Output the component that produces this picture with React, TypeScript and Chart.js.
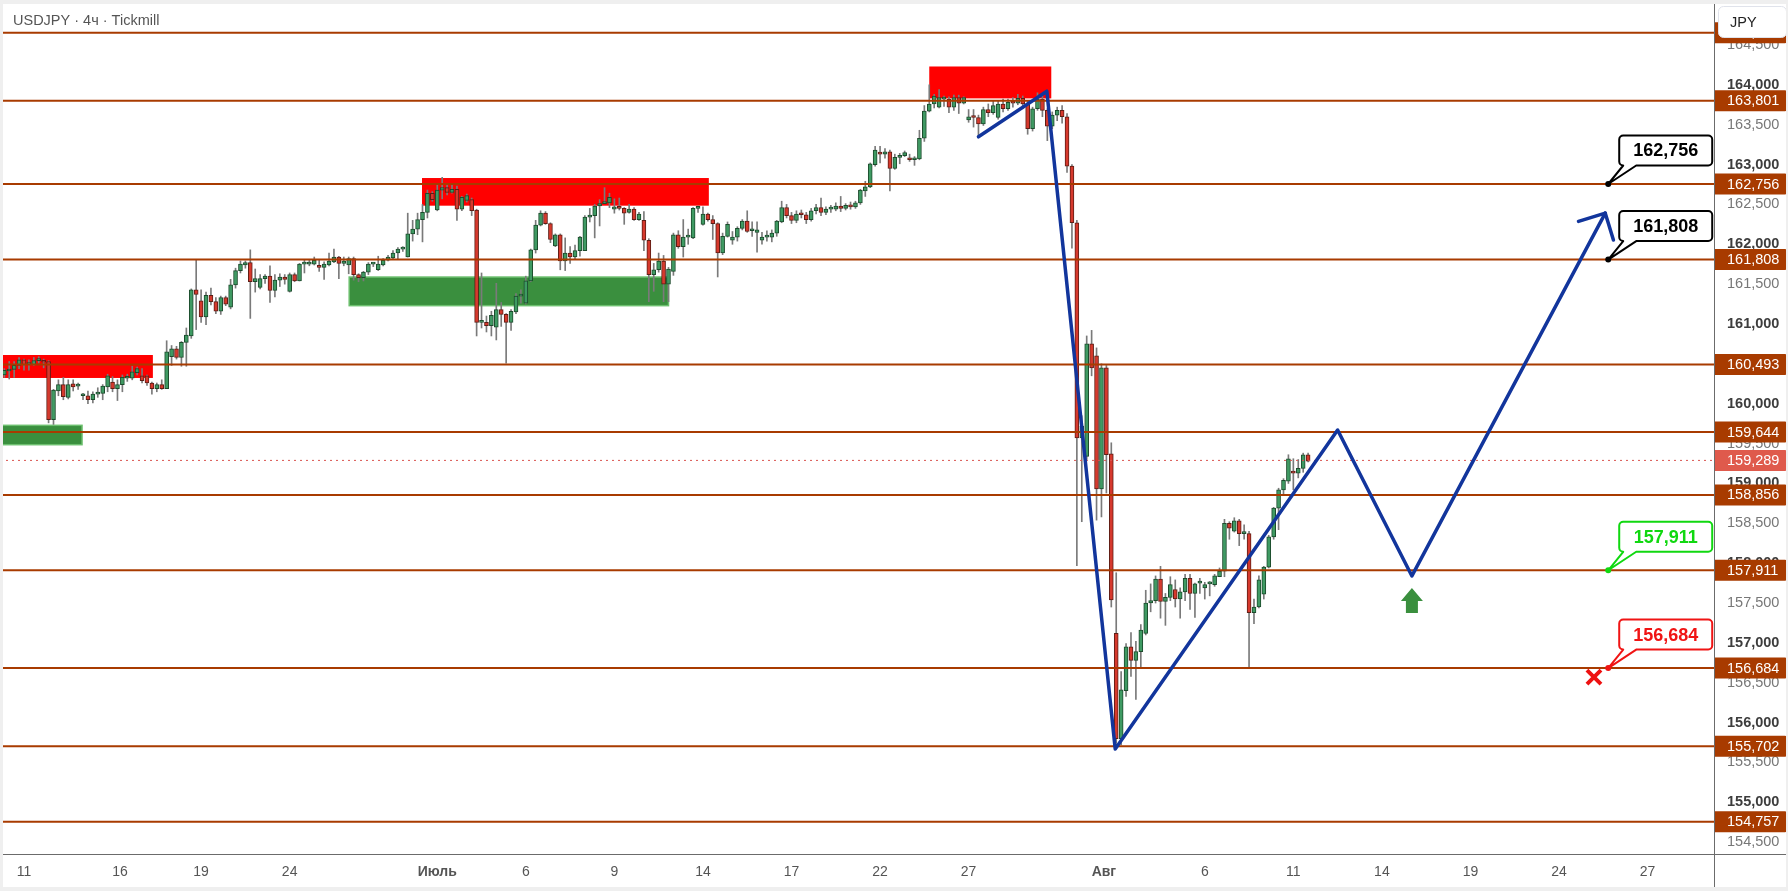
import React, { useEffect, useRef } from 'react';
import { Chart, registerables } from 'chart.js';

Chart.register(...registerables);

// ---------- 4h candles (bar index 0..265) ----------
const OPEN = [
  160.36, 160.41, 160.43, 160.48, 160.55, 160.49, 160.49, 160.54, 160.53, 160.53,
  159.80, 160.16, 160.24, 160.08, 160.25, 160.22, 160.10, 160.10, 160.05, 160.12,
  160.13, 160.21, 160.27, 160.19, 160.24, 160.32, 160.32, 160.39, 160.35, 160.35,
  160.26, 160.19, 160.24, 160.19, 160.59, 160.69, 160.58, 160.77, 160.85, 161.43,
  161.29, 161.09, 161.36, 161.28, 161.16, 161.33, 161.21, 161.49, 161.67, 161.74,
  161.77, 161.53, 161.46, 161.57, 161.60, 161.42, 161.55, 161.59, 161.41, 161.62,
  161.54, 161.75, 161.75, 161.75, 161.73, 161.71, 161.74, 161.78, 161.84, 161.76,
  161.74, 161.82, 161.62, 161.58, 161.65, 161.75, 161.68, 161.74, 161.80, 161.83,
  161.89, 161.94, 161.84, 162.13, 162.19, 162.31, 162.40, 162.64, 162.43, 162.68,
  162.71, 162.65, 162.69, 162.44, 162.55, 162.56, 162.43, 161.02, 161.02, 160.98,
  160.96, 161.18, 161.12, 161.02, 161.15, 161.35, 161.26, 161.54, 161.93, 162.24,
  162.39, 162.26, 161.98, 162.12, 161.79, 161.89, 161.84, 161.92, 161.92, 162.34,
  162.36, 162.48, 162.51, 162.52, 162.44, 162.47, 162.45, 162.40, 162.44, 162.31,
  162.30, 162.05, 161.62, 161.68, 161.79, 161.50, 161.66, 162.12, 161.97, 162.09,
  162.08, 162.45, 162.25, 162.38, 162.31, 162.26, 161.89, 162.10, 162.05, 162.09,
  162.20, 162.29, 162.17, 162.15, 162.05, 162.09, 162.09, 162.14, 162.28, 162.46,
  162.36, 162.30, 162.38, 162.37, 162.31, 162.42, 162.46, 162.40, 162.44, 162.44,
  162.48, 162.45, 162.49, 162.47, 162.52, 162.67, 162.72, 163.00, 163.14, 163.13,
  163.16, 162.95, 163.09, 163.11, 163.07, 163.06, 163.07, 163.33, 163.67, 163.76,
  163.72, 163.82, 163.82, 163.72, 163.84, 163.77, 163.56, 163.61, 163.59, 163.51,
  163.69, 163.65, 163.59, 163.76, 163.70, 163.78, 163.77, 163.83, 163.76, 163.45,
  163.70, 163.82, 163.68, 163.48, 163.62, 163.68, 163.60, 162.98, 162.27, 159.57,
  159.34, 160.75, 160.60, 158.93, 160.45, 159.37, 157.12, 155.80, 156.40, 156.95,
  156.78, 156.89, 157.12, 157.50, 157.53, 157.80, 157.52, 157.57, 157.67, 157.55,
  157.64, 157.81, 157.62, 157.75, 157.69, 157.74, 157.73, 157.83, 157.90, 158.50,
  158.40, 158.53, 158.37, 158.37, 157.38, 157.45, 157.61, 157.95, 158.33, 158.69,
  158.92, 159.03, 159.14, 159.13, 159.19, 159.36,
];
const HIGH = [
  160.44, 160.53, 160.53, 160.58, 160.56, 160.55, 160.58, 160.59, 160.56, 160.54,
  160.18, 160.30, 160.33, 160.30, 160.30, 160.26, 160.13, 160.16, 160.15, 160.20,
  160.24, 160.37, 160.34, 160.30, 160.36, 160.37, 160.47, 160.46, 160.44, 160.36,
  160.27, 160.26, 160.30, 160.79, 160.73, 160.72, 160.78, 160.95, 161.44, 161.80,
  161.43, 161.40, 161.45, 161.33, 161.35, 161.35, 161.56, 161.70, 161.79, 161.79,
  161.93, 161.69, 161.62, 161.62, 161.73, 161.62, 161.63, 161.62, 161.64, 161.64,
  161.76, 161.80, 161.81, 161.84, 161.80, 161.78, 161.89, 161.94, 161.85, 161.84,
  161.84, 161.84, 161.63, 161.66, 161.77, 161.77, 161.85, 161.82, 161.86, 161.92,
  161.96, 161.97, 162.39, 162.30, 162.39, 162.50, 162.68, 162.66, 162.76, 162.84,
  162.76, 162.76, 162.73, 162.60, 162.63, 162.58, 162.44, 161.64, 161.10, 161.16,
  161.51, 161.27, 161.13, 161.18, 161.38, 161.43, 161.60, 161.94, 162.30, 162.42,
  162.41, 162.27, 162.13, 162.13, 162.08, 161.97, 161.99, 162.10, 162.36, 162.45,
  162.50, 162.56, 162.71, 162.64, 162.57, 162.58, 162.46, 162.50, 162.46, 162.40,
  162.41, 162.07, 161.76, 161.89, 161.86, 161.71, 162.14, 162.17, 162.31, 162.19,
  162.46, 162.48, 162.47, 162.39, 162.36, 162.27, 162.14, 162.28, 162.16, 162.22,
  162.31, 162.42, 162.28, 162.28, 162.15, 162.17, 162.18, 162.30, 162.54, 162.50,
  162.40, 162.42, 162.43, 162.40, 162.45, 162.50, 162.58, 162.47, 162.49, 162.52,
  162.60, 162.51, 162.53, 162.54, 162.69, 162.79, 163.02, 163.23, 163.23, 163.20,
  163.18, 163.13, 163.14, 163.17, 163.13, 163.10, 163.43, 163.74, 164.00, 163.88,
  163.94, 163.86, 163.85, 163.87, 163.87, 163.85, 163.69, 163.69, 163.62, 163.72,
  163.76, 163.80, 163.80, 163.82, 163.82, 163.84, 163.88, 163.86, 163.80, 163.72,
  163.90, 163.86, 163.70, 163.66, 163.72, 163.74, 163.64, 163.00, 162.30, 159.85,
  160.85, 160.92, 160.70, 160.50, 160.48, 159.51, 157.88, 156.64, 156.99, 157.13,
  157.02, 157.23, 157.66, 157.74, 157.84, 157.96, 157.62, 157.83, 157.79, 157.69,
  157.86, 157.86, 157.75, 157.81, 157.76, 157.77, 157.86, 157.94, 158.55, 158.52,
  158.57, 158.55, 158.48, 158.40, 157.55, 157.84, 157.96, 158.35, 158.70, 158.94,
  159.06, 159.36, 159.31, 159.30, 159.38, 159.38,
];
const LOW = [
  160.33, 160.31, 160.33, 160.44, 160.42, 160.42, 160.48, 160.51, 160.45, 159.76,
  159.74, 160.10, 160.05, 160.06, 160.16, 160.18, 160.05, 160.00, 160.01, 160.08,
  160.05, 160.15, 160.15, 160.04, 160.15, 160.28, 160.30, 160.36, 160.26, 160.23,
  160.12, 160.15, 160.18, 160.19, 160.48, 160.56, 160.47, 160.47, 160.82, 160.93,
  161.02, 160.99, 161.24, 161.13, 161.12, 161.23, 161.19, 161.45, 161.64, 161.70,
  161.07, 161.40, 161.44, 161.51, 161.27, 161.34, 161.47, 161.50, 161.40, 161.53,
  161.54, 161.64, 161.73, 161.74, 161.66, 161.56, 161.73, 161.77, 161.57, 161.73,
  161.63, 161.55, 161.53, 161.54, 161.62, 161.72, 161.67, 161.73, 161.79, 161.82,
  161.81, 161.91, 161.84, 162.04, 162.12, 162.03, 162.33, 162.54, 162.42, 162.57,
  162.62, 162.64, 162.30, 162.42, 162.53, 162.36, 160.85, 160.95, 160.90, 160.85,
  160.80, 160.97, 160.51, 160.92, 161.13, 161.26, 161.25, 161.53, 161.89, 162.23,
  162.25, 162.02, 161.97, 161.68, 161.67, 161.76, 161.82, 161.85, 161.92, 162.28,
  162.08, 162.23, 162.51, 162.46, 162.39, 162.43, 162.25, 162.39, 162.30, 162.30,
  161.92, 161.28, 161.41, 161.65, 161.28, 161.28, 161.61, 161.95, 161.84, 162.00,
  162.07, 162.40, 162.24, 162.29, 162.06, 161.59, 161.87, 162.09, 162.00, 162.04,
  162.18, 162.15, 162.10, 161.90, 162.00, 162.04, 162.03, 162.10, 162.27, 162.33,
  162.26, 162.27, 162.33, 162.26, 162.29, 162.38, 162.36, 162.37, 162.40, 162.42,
  162.41, 162.43, 162.44, 162.45, 162.50, 162.60, 162.71, 162.98, 163.02, 163.08,
  162.67, 162.94, 163.01, 163.10, 163.04, 162.99, 163.06, 163.29, 163.66, 163.71,
  163.71, 163.73, 163.65, 163.68, 163.64, 163.76, 163.53, 163.47, 163.35, 163.49,
  163.60, 163.63, 163.57, 163.66, 163.68, 163.72, 163.75, 163.70, 163.38, 163.42,
  163.68, 163.60, 163.30, 163.45, 163.55, 163.52, 162.90, 161.95, 157.97, 158.52,
  159.30, 160.35, 158.54, 158.58, 158.88, 157.45, 155.74, 155.72, 156.33, 156.58,
  156.29, 156.70, 157.10, 157.39, 157.50, 157.31, 157.22, 157.53, 157.45, 157.31,
  157.53, 157.42, 157.32, 157.62, 157.55, 157.59, 157.71, 157.83, 157.83, 158.30,
  158.39, 158.22, 158.30, 156.69, 157.24, 157.44, 157.55, 157.94, 158.30, 158.42,
  158.86, 159.00, 158.92, 159.07, 159.14, 159.27,
];
const CLOSE = [
  160.42, 160.43, 160.48, 160.55, 160.49, 160.50, 160.54, 160.54, 160.52, 159.80,
  160.17, 160.24, 160.09, 160.24, 160.21, 160.22, 160.11, 160.05, 160.12, 160.14,
  160.22, 160.35, 160.19, 160.24, 160.33, 160.32, 160.40, 160.44, 160.29, 160.26,
  160.19, 160.24, 160.19, 160.65, 160.69, 160.58, 160.77, 160.86, 161.43, 161.37,
  161.09, 161.36, 161.28, 161.16, 161.33, 161.25, 161.49, 161.67, 161.75, 161.77,
  161.53, 161.57, 161.57, 161.60, 161.42, 161.55, 161.59, 161.56, 161.62, 161.54,
  161.75, 161.75, 161.75, 161.80, 161.71, 161.75, 161.79, 161.84, 161.76, 161.79,
  161.82, 161.62, 161.58, 161.65, 161.75, 161.75, 161.75, 161.80, 161.84, 161.89,
  161.94, 161.94, 162.13, 162.19, 162.31, 162.40, 162.64, 162.56, 162.68, 162.71,
  162.65, 162.69, 162.44, 162.59, 162.61, 162.42, 161.02, 161.02, 160.98, 161.11,
  161.18, 161.12, 161.02, 161.16, 161.35, 161.36, 161.54, 161.93, 162.24, 162.39,
  162.26, 162.06, 162.12, 161.79, 161.89, 161.84, 161.92, 162.09, 162.34, 162.36,
  162.48, 162.51, 162.53, 162.59, 162.47, 162.45, 162.39, 162.44, 162.31, 162.38,
  162.05, 161.62, 161.68, 161.79, 161.50, 161.69, 162.12, 161.97, 162.09, 162.09,
  162.45, 162.45, 162.38, 162.31, 162.26, 161.89, 162.10, 162.25, 162.09, 162.20,
  162.29, 162.16, 162.17, 162.18, 162.09, 162.09, 162.14, 162.29, 162.46, 162.36,
  162.30, 162.38, 162.37, 162.31, 162.42, 162.46, 162.40, 162.44, 162.44, 162.48,
  162.45, 162.49, 162.47, 162.52, 162.68, 162.72, 163.01, 163.18, 163.13, 163.16,
  162.95, 163.09, 163.10, 163.15, 163.06, 163.07, 163.33, 163.67, 163.76, 163.86,
  163.84, 163.83, 163.72, 163.84, 163.77, 163.84, 163.60, 163.59, 163.51, 163.69,
  163.65, 163.74, 163.76, 163.70, 163.78, 163.77, 163.83, 163.76, 163.45, 163.70,
  163.82, 163.68, 163.48, 163.62, 163.68, 163.60, 162.98, 162.27, 159.57, 159.72,
  160.75, 160.45, 158.93, 160.45, 159.36, 157.54, 155.80, 156.41, 156.95, 156.78,
  156.89, 157.16, 157.50, 157.53, 157.80, 157.52, 157.57, 157.73, 157.55, 157.64,
  157.81, 157.62, 157.74, 157.75, 157.73, 157.74, 157.84, 157.90, 158.50, 158.44,
  158.53, 158.37, 158.37, 157.38, 157.45, 157.79, 157.95, 158.33, 158.69, 158.92,
  159.04, 159.31, 159.13, 159.19, 159.36, 159.28,
];

// ---------- horizontal levels ----------
const LEVELS = [164.654, 163.801, 162.756, 161.808, 160.493, 159.644, 158.856, 157.911, 156.684, 155.702, 154.757];
const LAST_PRICE = 159.289;

// ---------- price axis ticks ----------
const Y_TICKS = [
  154.5, 155, 155.5, 156, 156.5, 157, 157.5, 158, 158.5, 159, 159.5,
  160, 160.5, 161, 161.5, 162, 162.5, 163, 163.5, 164, 164.5,
];

// ---------- time axis ----------
const X_TICKS = [4, 23.5, 40, 58, 88, 106, 124, 142, 160, 178, 196, 223.5, 244, 262, 280, 298, 316, 334];
const X_TICK_LABELS = ['11', '16', '19', '24', 'Июль', '6', '9', '14', '17', '22', '27', 'Авг', '6', '11', '14', '19', '24', '27'];
const MONTH_LABELS = ['Июль', 'Авг'];

// ---------- zones (bar index range, price range) ----------
const ZONE_START = [-1, -1, 84.9, 70.1, 188];
const ZONE_END = [30.2, 15.8, 143.2, 135, 212.8];
const ZONE_TOP = [160.611, 159.729, 162.831, 161.589, 164.23];
const ZONE_BOTTOM = [160.323, 159.486, 162.484, 161.23, 163.83];
const ZONE_KIND = ['supply', 'demand', 'supply', 'demand', 'supply'];

// ---------- projected path ----------
const PATH_X = [198.0, 211.9, 225.8, 271.0, 286.1, 325.4];
const PATH_Y = [163.348, 163.92, 155.668, 159.67, 157.84, 162.39];

// ---------- callout targets ----------
const TARGET_PRICES = [162.756, 161.808, 157.911, 156.684];
const TARGET_KIND = ['target', 'target', 'entry', 'stop'];
const TARGET_BAR = 326;
const ENTRY_BAR = 286.1;
const ENTRY_PRICE = 157.69;
const STOP_BAR = 323.1;
const STOP_PRICE = 156.57;

// ---------- view ----------
const X_MIN = -0.874;
const X_MAX = 347.5;
const Y_MIN = 154.352;
const Y_MAX = 165.064;

const W = 1788;
const H = 891;
const AXIS_W = 74;
const AXIS_H = 37;
const FONT = '"Liberation Sans", Arial, sans-serif';
const LEVEL_COLOR = '#a83b00';
const UP_FILL = '#3f9a63';
const UP_BORDER = '#1c4b2c';
const DOWN_FILL = '#d6392d';
const DOWN_BORDER = '#5e1d15';
const WICK = '#7a7a7a';
const BLUE = '#12359c';

const fmt = (v: number) => v.toFixed(3).replace('.', ',');
const kindColor = (k: string) => (k === 'entry' ? '#10d810' : k === 'stop' ? '#f01414' : '#000000');
const isMajor = (v: number) => Math.abs(v - Math.round(v)) < 1e-6;

function drawCallout(ctx: CanvasRenderingContext2D, px: number, py: number, text: string, color: string) {
  const bw = 93;
  const bh = 30;
  const bx = px + 11;
  const by = py - 18.5 - bh;
  const r = 4;
  const bb = by + bh;
  ctx.save();
  ctx.beginPath();
  ctx.moveTo(bx + r, by);
  ctx.lineTo(bx + bw - r, by);
  ctx.arcTo(bx + bw, by, bx + bw, by + r, r);
  ctx.lineTo(bx + bw, bb - r);
  ctx.arcTo(bx + bw, bb, bx + bw - r, bb, r);
  ctx.lineTo(bx + 17, bb);
  ctx.lineTo(px, py);
  ctx.lineTo(bx + 4, bb);
  ctx.lineTo(bx + r, bb);
  ctx.arcTo(bx, bb, bx, bb - r, r);
  ctx.lineTo(bx, by + r);
  ctx.arcTo(bx, by, bx + r, by, r);
  ctx.closePath();
  ctx.fillStyle = '#ffffff';
  ctx.fill();
  ctx.lineWidth = 2;
  ctx.strokeStyle = color;
  ctx.lineJoin = 'round';
  ctx.stroke();
  ctx.beginPath();
  ctx.arc(px, py, 3, 0, Math.PI * 2);
  ctx.fillStyle = color;
  ctx.fill();
  ctx.font = `bold 18px ${FONT}`;
  ctx.textAlign = 'center';
  ctx.textBaseline = 'middle';
  ctx.fillStyle = color;
  ctx.fillText(text, bx + bw / 2, by + bh / 2 + 1);
  ctx.restore();
}

const overlayPlugin = {
  id: 'overlay',
  beforeDatasetsDraw(chart: any) {
    const { ctx, chartArea: a, scales } = chart;
    const x = scales.x;
    const y = scales.y;
    ctx.save();
    ctx.beginPath();
    ctx.rect(a.left, a.top, a.right - a.left, a.bottom - a.top);
    ctx.clip();
    ZONE_START.forEach((s, i) => {
      const x0 = x.getPixelForValue(s);
      const x1 = x.getPixelForValue(ZONE_END[i]);
      const y0 = y.getPixelForValue(ZONE_TOP[i]);
      const y1 = y.getPixelForValue(ZONE_BOTTOM[i]);
      if (ZONE_KIND[i] === 'supply') {
        ctx.fillStyle = '#ff0000';
        ctx.fillRect(x0, y0, x1 - x0, y1 - y0);
      } else {
        ctx.fillStyle = '#3a8f3e';
        ctx.fillRect(x0, y0, x1 - x0, y1 - y0);
        ctx.strokeStyle = '#6cbf6e';
        ctx.lineWidth = 1.5;
        ctx.strokeRect(x0, y0, x1 - x0, y1 - y0);
      }
    });
    ctx.restore();
  },
  afterDraw(chart: any) {
    const { ctx, chartArea: a, scales } = chart;
    const x = scales.x;
    const y = scales.y;

    // arrow head on projected path
    const n = PATH_X.length;
    const tx = x.getPixelForValue(PATH_X[n - 1]);
    const ty = y.getPixelForValue(PATH_Y[n - 1]);
    const sx = x.getPixelForValue(PATH_X[n - 2]);
    const sy = y.getPixelForValue(PATH_Y[n - 2]);
    const len = Math.hypot(sx - tx, sy - ty);
    const dx = (sx - tx) / len;
    const dy = (sy - ty) / len;
    ctx.save();
    ctx.strokeStyle = BLUE;
    ctx.lineWidth = 3.5;
    ctx.lineCap = 'round';
    [Math.PI / 4, -Math.PI / 4].forEach((ang) => {
      const c = Math.cos(ang);
      const s = Math.sin(ang);
      const wx = dx * c - dy * s;
      const wy = dx * s + dy * c;
      ctx.beginPath();
      ctx.moveTo(tx, ty);
      ctx.lineTo(tx + wx * 28, ty + wy * 28);
      ctx.stroke();
    });
    ctx.restore();

    // callouts
    TARGET_PRICES.forEach((p, i) => {
      drawCallout(ctx, x.getPixelForValue(TARGET_BAR), y.getPixelForValue(p), fmt(p), kindColor(TARGET_KIND[i]));
    });

    // entry arrow
    const ex = x.getPixelForValue(ENTRY_BAR);
    const ey = y.getPixelForValue(ENTRY_PRICE);
    ctx.save();
    ctx.fillStyle = '#3a8f3e';
    ctx.beginPath();
    ctx.moveTo(ex, ey);
    ctx.lineTo(ex + 11, ey + 13);
    ctx.lineTo(ex + 6, ey + 13);
    ctx.lineTo(ex + 6, ey + 25);
    ctx.lineTo(ex - 6, ey + 25);
    ctx.lineTo(ex - 6, ey + 13);
    ctx.lineTo(ex - 11, ey + 13);
    ctx.closePath();
    ctx.fill();
    ctx.restore();

    // stop cross
    const cx = x.getPixelForValue(STOP_BAR);
    const cy = y.getPixelForValue(STOP_PRICE);
    ctx.save();
    ctx.strokeStyle = '#ee1111';
    ctx.lineWidth = 4;
    ctx.beginPath();
    ctx.moveTo(cx - 7, cy - 7);
    ctx.lineTo(cx + 7, cy + 7);
    ctx.moveTo(cx + 7, cy - 7);
    ctx.lineTo(cx - 7, cy + 7);
    ctx.stroke();
    ctx.restore();

    // axis separators
    ctx.save();
    ctx.fillStyle = '#6b6b6b';
    ctx.fillRect(Math.round(a.right), 0, 1, H);
    ctx.fillRect(0, Math.round(a.bottom), W, 1);
    ctx.restore();

    // price labels on axis
    const label = (v: number, bg: string) => {
      const py = y.getPixelForValue(v);
      ctx.save();
      ctx.fillStyle = bg;
      ctx.beginPath();
      (ctx as any).roundRect(a.right + 1, py - 10.5, 72, 21, [0, 2, 2, 0]);
      ctx.fill();
      ctx.fillStyle = '#ffffff';
      ctx.font = `14.5px ${FONT}`;
      ctx.textAlign = 'left';
      ctx.textBaseline = 'middle';
      ctx.fillText(fmt(v), a.right + 13, py + 0.5);
      ctx.restore();
    };
    LEVELS.forEach((v) => label(v, LEVEL_COLOR));
    label(LAST_PRICE, '#df5a4c');

    // currency box
    ctx.save();
    ctx.beginPath();
    (ctx as any).roundRect(a.right + 4.5, 6.5, 68, 31, 5);
    ctx.fillStyle = '#ffffff';
    ctx.fill();
    ctx.strokeStyle = '#e0e3eb';
    ctx.lineWidth = 1;
    ctx.stroke();
    ctx.fillStyle = '#222222';
    ctx.font = `14.5px ${FONT}`;
    ctx.textBaseline = 'middle';
    ctx.textAlign = 'left';
    ctx.fillText('JPY', a.right + 16, 22.5);
    ctx.restore();

    // header
    ctx.save();
    ctx.fillStyle = '#555555';
    ctx.font = `14.5px ${FONT}`;
    ctx.textBaseline = 'middle';
    ctx.textAlign = 'left';
    ctx.fillText('USDJPY · 4ч · Tickmill', 13, 21);
    ctx.restore();

    // frame
    ctx.save();
    ctx.fillStyle = '#efefef';
    ctx.fillRect(0, 0, W, 4);
    ctx.fillRect(0, 0, 3, H);
    ctx.fillRect(0, H - 4, W, 4);
    ctx.fillRect(W - 2, 0, 2, H);
    ctx.restore();
  },
};

const zeroPadding = (s: any) => {
  s.paddingTop = 0;
  s.paddingBottom = 0;
  s.paddingLeft = 0;
  s.paddingRight = 0;
};

export default function App() {
  const ref = useRef<HTMLCanvasElement | null>(null);

  useEffect(() => {
    document.body.style.margin = '0';
    const canvas = ref.current;
    if (!canvas) return;

    const isUp = OPEN.map((o, i) => CLOSE[i] >= o);

    const datasets: any[] = [
      {
        type: 'bar',
        data: OPEN.map((_, i) => ({ x: i, y: [LOW[i], HIGH[i]] })),
        backgroundColor: WICK,
        barThickness: 1,
        grouped: false,
        order: 6,
      },
      {
        type: 'bar',
        data: OPEN.map((o, i) => ({ x: i, y: [o, CLOSE[i]] })),
        backgroundColor: isUp.map((u) => (u ? UP_FILL : DOWN_FILL)),
        borderColor: isUp.map((u) => (u ? UP_BORDER : DOWN_BORDER)),
        borderWidth: 1,
        borderSkipped: false,
        barThickness: 4,
        minBarLength: 2,
        grouped: false,
        order: 5,
      },
      ...LEVELS.map((v) => ({
        type: 'line',
        data: [
          { x: X_MIN, y: v },
          { x: X_MAX, y: v },
        ],
        borderColor: LEVEL_COLOR,
        borderWidth: 2,
        pointRadius: 0,
        fill: false,
        order: 4,
      })),
      {
        type: 'line',
        data: [
          { x: X_MIN, y: LAST_PRICE },
          { x: X_MAX, y: LAST_PRICE },
        ],
        borderColor: '#d9534f',
        borderWidth: 1,
        borderDash: [2, 4],
        pointRadius: 0,
        fill: false,
        order: 3,
      },
      {
        type: 'line',
        data: PATH_X.map((px, i) => ({ x: px, y: PATH_Y[i] })),
        borderColor: BLUE,
        borderWidth: 3.5,
        borderCapStyle: 'round',
        borderJoinStyle: 'round',
        tension: 0,
        pointRadius: 0,
        fill: false,
        order: 1,
      },
    ];

    const chart = new Chart(canvas, {
      type: 'bar',
      data: { datasets },
      options: {
        animation: false,
        responsive: false,
        maintainAspectRatio: false,
        events: [],
        layout: { padding: 0 },
        plugins: { legend: { display: false }, tooltip: { enabled: false } },
        scales: {
          x: {
            type: 'linear',
            min: X_MIN,
            max: X_MAX,
            bounds: 'data',
            offset: false,
            grid: { display: false, drawTicks: false },
            border: { display: false },
            afterBuildTicks: (s: any) => {
              s.ticks = X_TICKS.map((v) => ({ value: v }));
            },
            afterFit: (s: any) => {
              s.height = AXIS_H;
              zeroPadding(s);
            },
            ticks: {
              autoSkip: false,
              maxRotation: 0,
              minRotation: 0,
              padding: 10,
              color: '#555555',
              callback: (_v: any, i: number) => X_TICK_LABELS[i],
              font: (c: any) => ({
                family: FONT,
                size: 14,
                weight: MONTH_LABELS.includes(X_TICK_LABELS[c.index]) ? 'bold' : 'normal',
              }),
            },
          },
          y: {
            type: 'linear',
            position: 'right',
            min: Y_MIN,
            max: Y_MAX,
            bounds: 'data',
            grid: { display: false, drawTicks: false },
            border: { display: false },
            afterBuildTicks: (s: any) => {
              s.ticks = Y_TICKS.map((v) => ({ value: v }));
            },
            afterFit: (s: any) => {
              s.width = AXIS_W;
              zeroPadding(s);
            },
            ticks: {
              autoSkip: false,
              padding: 13,
              crossAlign: 'near',
              callback: (v: any) => fmt(Number(v)),
              color: (c: any) => (c.tick && isMajor(c.tick.value) ? '#3d3d3d' : '#777777'),
              font: (c: any) => ({
                family: FONT,
                size: 14.5,
                weight: c.tick && isMajor(c.tick.value) ? 'bold' : 'normal',
              }),
            },
          },
        },
      } as any,
      plugins: [overlayPlugin as any],
    });

    return () => chart.destroy();
  }, []);

  return (
    <div style={{ width: W, height: H, position: 'relative', overflow: 'hidden', background: '#ffffff' }}>
      <canvas ref={ref} width={W} height={H} style={{ display: 'block', width: W, height: H }} />
    </div>
  );
}
